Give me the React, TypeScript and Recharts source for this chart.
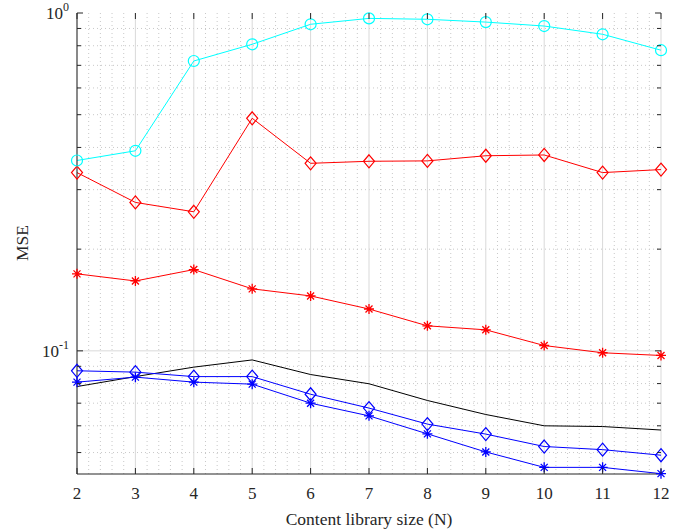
import React from 'react';
import { LineChart, Line, XAxis, YAxis, CartesianGrid } from 'recharts';

// ---- data ----
const librarySize = [2, 3, 4, 5, 6, 7, 8, 9, 10, 11, 12];
const cyanCircle = [0.366, 0.391, 0.721, 0.808, 0.926, 0.964, 0.958, 0.94, 0.915, 0.865, 0.776];
const redDiamond = [0.337, 0.275, 0.258, 0.488, 0.359, 0.364, 0.365, 0.378, 0.38, 0.337, 0.344];
const redStar = [0.169, 0.161, 0.174, 0.1526, 0.1454, 0.133, 0.1186, 0.1154, 0.1037, 0.0987, 0.0969];
const blackLine = [0.0784, 0.0839, 0.0895, 0.094, 0.0851, 0.0799, 0.0713, 0.0648, 0.06, 0.0597, 0.0583];
const blueDiamond = [0.0873, 0.0865, 0.0839, 0.0839, 0.0744, 0.0677, 0.0607, 0.0567, 0.0521, 0.051, 0.0491];
const blueStar = [0.0808, 0.0836, 0.0808, 0.0797, 0.07, 0.0642, 0.0568, 0.0502, 0.0452, 0.0452, 0.0433];

const xTicks = [2, 3, 4, 5, 6, 7, 8, 9, 10, 11, 12];
const yTicks = [0.05, 0.06, 0.07, 0.08, 0.09, 0.1, 0.2, 0.3, 0.4, 0.5, 0.6, 0.7, 0.8, 0.9, 1];
const yMajorLabels: Record<string, string> = { '1': '0', '0.1': '-1' };
const xMinorGrid: number[] = [];
for (let i = 2; i < 12; i++) for (let k = 1; k < 5; k++) xMinorGrid.push(+(i + k * 0.2).toFixed(1));
const yMinorGrid = [0.05, 0.06, 0.07, 0.08, 0.09, 0.2, 0.3, 0.4, 0.5, 0.6, 0.7, 0.8, 0.9];
const yMajorGrid = [0.1];
const yDomain = [0.0432, 1];

const data = librarySize.map((n, i) => ({
  n,
  cyanCircle: cyanCircle[i],
  redDiamond: redDiamond[i],
  redStar: redStar[i],
  blackLine: blackLine[i],
  blueDiamond: blueDiamond[i],
  blueStar: blueStar[i],
}));

// ---- layout / style ----
const W = 682;
const H = 529;
const PL = 77;
const PR = 661;
const PT = 13;
const PB = 474;
const AX = '#262626';
const FONT = '"Liberation Serif", "Times New Roman", serif';

const XTick = (props: any) => {
  const { x, payload } = props;
  return (
    <g>
      <line x1={x} x2={x} y1={PB} y2={PB - 6} stroke={AX} strokeWidth={1} />
      <line x1={x} x2={x} y1={PT} y2={PT + 6} stroke={AX} strokeWidth={1} />
      <text x={x} y={499} textAnchor="middle" fontSize={17} fill={AX} fontFamily={FONT}>
        {payload.value}
      </text>
    </g>
  );
};

const YTick = (props: any) => {
  const { y, payload } = props;
  const key = String(payload.value);
  const sup = yMajorLabels[key];
  const len = sup !== undefined ? 6 : 4;
  return (
    <g>
      <line x1={PL} x2={PL + len} y1={y} y2={y} stroke={AX} strokeWidth={1} />
      <line x1={PR} x2={PR - len} y1={y} y2={y} stroke={AX} strokeWidth={1} />
      {sup !== undefined && (
        <text x={69} y={y + 6} textAnchor="end" fontSize={17} fill={AX} fontFamily={FONT}>
          <tspan>10</tspan>
          <tspan dy={-8} fontSize={12}>{sup}</tspan>
        </text>
      )}
    </g>
  );
};

const XTitle = () => (
  <text x={(PL + PR) / 2} y={525} textAnchor="middle" fontSize={17.5} fill={AX} fontFamily={FONT}>
    Content library size (N)
  </text>
);

const YTitle = () => (
  <text
    x={28}
    y={243}
    textAnchor="middle"
    fontSize={17.5}
    fill={AX}
    fontFamily={FONT}
    transform="rotate(-90, 28, 243)"
  >
    MSE
  </text>
);

const circleDot = (color: string) => (p: any) => (
  <circle key={`c${p.index}`} cx={p.cx} cy={p.cy} r={5.5} fill="none" stroke={color} strokeWidth={1.2} />
);

const diamondDot = (color: string) => (p: any) => (
  <path
    key={`d${p.index}`}
    d={`M${p.cx},${p.cy - 6.5} L${p.cx + 5.5},${p.cy} L${p.cx},${p.cy + 6.5} L${p.cx - 5.5},${p.cy} Z`}
    fill="none"
    stroke={color}
    strokeWidth={1.2}
  />
);

const starDot = (color: string) => (p: any) => {
  const r = 5;
  const d = 3.5;
  return (
    <path
      key={`s${p.index}`}
      d={`M${p.cx - r},${p.cy} L${p.cx + r},${p.cy} M${p.cx},${p.cy - r} L${p.cx},${p.cy + r} M${p.cx - d},${p.cy - d} L${p.cx + d},${p.cy + d} M${p.cx - d},${p.cy + d} L${p.cx + d},${p.cy - d}`}
      fill="none"
      stroke={color}
      strokeWidth={1.3}
    />
  );
};

export default function App() {
  return (
    <div style={{ position: 'absolute', left: 0, top: 0, width: W, height: H, background: '#fff' }}>
      <LineChart width={W} height={H} data={data} margin={{ top: PT, right: W - PR, bottom: 25, left: 17 }}>
        <CartesianGrid
          horizontalValues={yMinorGrid}
          verticalValues={xMinorGrid}
          stroke="#c8c8c8"
          strokeDasharray="1 3"
          strokeWidth={1}
        />
        <CartesianGrid
          horizontalValues={yMajorGrid}
          verticalValues={xTicks}
          stroke="#d9d9d9"
          strokeWidth={1}
        />
        <XAxis
          dataKey="n"
          type="number"
          domain={[2, 12]}
          ticks={xTicks}
          interval={0}
          height={30}
          tickSize={0}
          tickMargin={0}
          tickLine={false}
          tick={<XTick />}
          axisLine={{ stroke: AX, strokeWidth: 1 }}
          label={<XTitle />}
        />
        <XAxis
          xAxisId="top"
          orientation="top"
          dataKey="n"
          type="number"
          domain={[2, 12]}
          height={0}
          tick={false}
          tickLine={false}
          axisLine={{ stroke: AX, strokeWidth: 1 }}
        />
        <YAxis
          type="number"
          scale="log"
          domain={yDomain}
          ticks={yTicks}
          interval={0}
          width={60}
          tickSize={0}
          tickMargin={0}
          tickLine={false}
          tick={<YTick />}
          axisLine={{ stroke: AX, strokeWidth: 1 }}
          label={<YTitle />}
        />
        <YAxis
          yAxisId="right"
          orientation="right"
          type="number"
          scale="log"
          domain={yDomain}
          width={0}
          tick={false}
          tickLine={false}
          axisLine={{ stroke: AX, strokeWidth: 1 }}
        />
        <Line dataKey="blackLine" stroke="#000000" strokeWidth={1} dot={false} activeDot={false} isAnimationActive={false} />
        <Line dataKey="blueDiamond" stroke="#0000ff" strokeWidth={1} dot={diamondDot('#0000ff')} activeDot={false} isAnimationActive={false} />
        <Line dataKey="blueStar" stroke="#0000ff" strokeWidth={1} dot={starDot('#0000ff')} activeDot={false} isAnimationActive={false} />
        <Line dataKey="redStar" stroke="#ff0000" strokeWidth={1} dot={starDot('#ff0000')} activeDot={false} isAnimationActive={false} />
        <Line dataKey="redDiamond" stroke="#ff0000" strokeWidth={1} dot={diamondDot('#ff0000')} activeDot={false} isAnimationActive={false} />
        <Line dataKey="cyanCircle" stroke="#00ffff" strokeWidth={1} dot={circleDot('#00ffff')} activeDot={false} isAnimationActive={false} />
      </LineChart>
    </div>
  );
}
